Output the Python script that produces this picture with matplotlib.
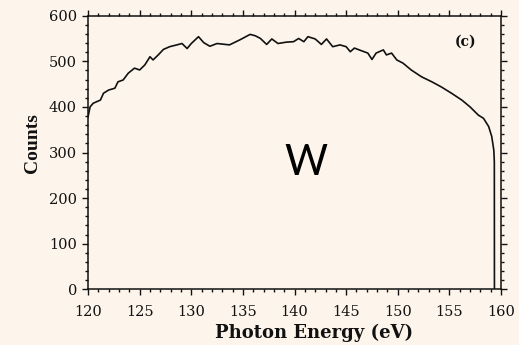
import matplotlib
matplotlib.use("Agg")
import matplotlib.pyplot as plt
from matplotlib.ticker import MultipleLocator

# Spectrum (photon energy in eV, counts)
energy = [120.0, 120.2, 120.5, 121.2, 121.5, 122.0, 122.6, 122.9, 123.4, 123.9,
          124.5, 125.0, 125.5, 126.0, 126.3, 126.8, 127.3, 127.9, 128.6, 129.1,
          129.6, 130.0, 130.7, 131.2, 131.8, 132.5, 132.9, 133.7, 134.7, 135.7,
          136.2, 136.7, 137.3, 137.8, 138.4, 139.2, 139.9, 140.4, 140.9, 141.3,
          142.0, 142.6, 143.1, 143.7, 144.4, 145.0, 145.4, 145.8, 146.5, 147.1,
          147.5, 147.9, 148.6, 148.9, 149.4, 149.9, 150.5, 151.3, 152.3, 153.3,
          154.2, 155.2, 156.2, 157.0, 157.8, 158.3, 158.8, 159.1, 159.3, 159.35,
          159.36]
counts = [378, 400, 408, 415, 430, 437, 441, 455, 459, 474,
          485, 481, 492, 510, 503, 514, 526, 532, 536, 539,
          528, 539, 554, 541, 533, 539, 538, 536, 547, 559,
          556, 550, 537, 549, 539, 542, 543, 550, 543, 554,
          549, 537, 549, 532, 536, 532, 521, 529, 523, 518,
          504, 518, 525, 514, 518, 503, 496, 481, 466, 455,
          444, 430, 415, 400, 382, 375, 357, 335, 305, 280,
          0]

BG = "#fdf5eb"
TICK_FONT = "DejaVu Serif"

fig = plt.figure(figsize=(5.19, 3.45), dpi=100, facecolor=BG)
ax = fig.add_axes([0.1696, 0.1614, 0.7958, 0.7931])
ax.set_facecolor(BG)

ax.plot(energy, counts, color="#111111", linewidth=1.2)

ax.set_xlim(120, 160)
ax.set_ylim(0, 600)
ax.xaxis.set_major_locator(MultipleLocator(5))
ax.xaxis.set_minor_locator(MultipleLocator(1))
ax.yaxis.set_major_locator(MultipleLocator(100))
ax.yaxis.set_minor_locator(MultipleLocator(20))
ax.tick_params(which="both", direction="out", top=True, right=True,
               color="#111111", width=1.0)
ax.tick_params(which="major", length=4)
ax.tick_params(which="minor", length=2.5)
ax.tick_params(axis="x", which="major", pad=7)
ax.tick_params(axis="y", which="major", pad=4)
for lab in ax.get_xticklabels() + ax.get_yticklabels():
    lab.set_fontfamily(TICK_FONT)
    lab.set_fontsize(10.5)
    lab.set_color("#111111")
for sp in ax.spines.values():
    sp.set_linewidth(1.1)
    sp.set_color("#111111")

fig.text(0.0617, 0.5855, "Counts", rotation=90, ha="center", va="center",
         family="Liberation Serif", fontweight="bold", fontsize=14, color="#111111")
fig.text(0.605, 0.035, "Photon Energy (eV)", ha="center", va="center",
         family=TICK_FONT, fontweight="bold", fontsize=13, color="#111111")

ax.text(156.6, 542, "(c)", ha="center", va="center", family=TICK_FONT,
        fontweight="bold", fontsize=10, color="#111111")
ax.text(141.1, 277, "W", ha="center", va="center", family="Lato",
        fontsize=30, color="black")

fig.savefig("out.png", dpi=100, facecolor=BG)
